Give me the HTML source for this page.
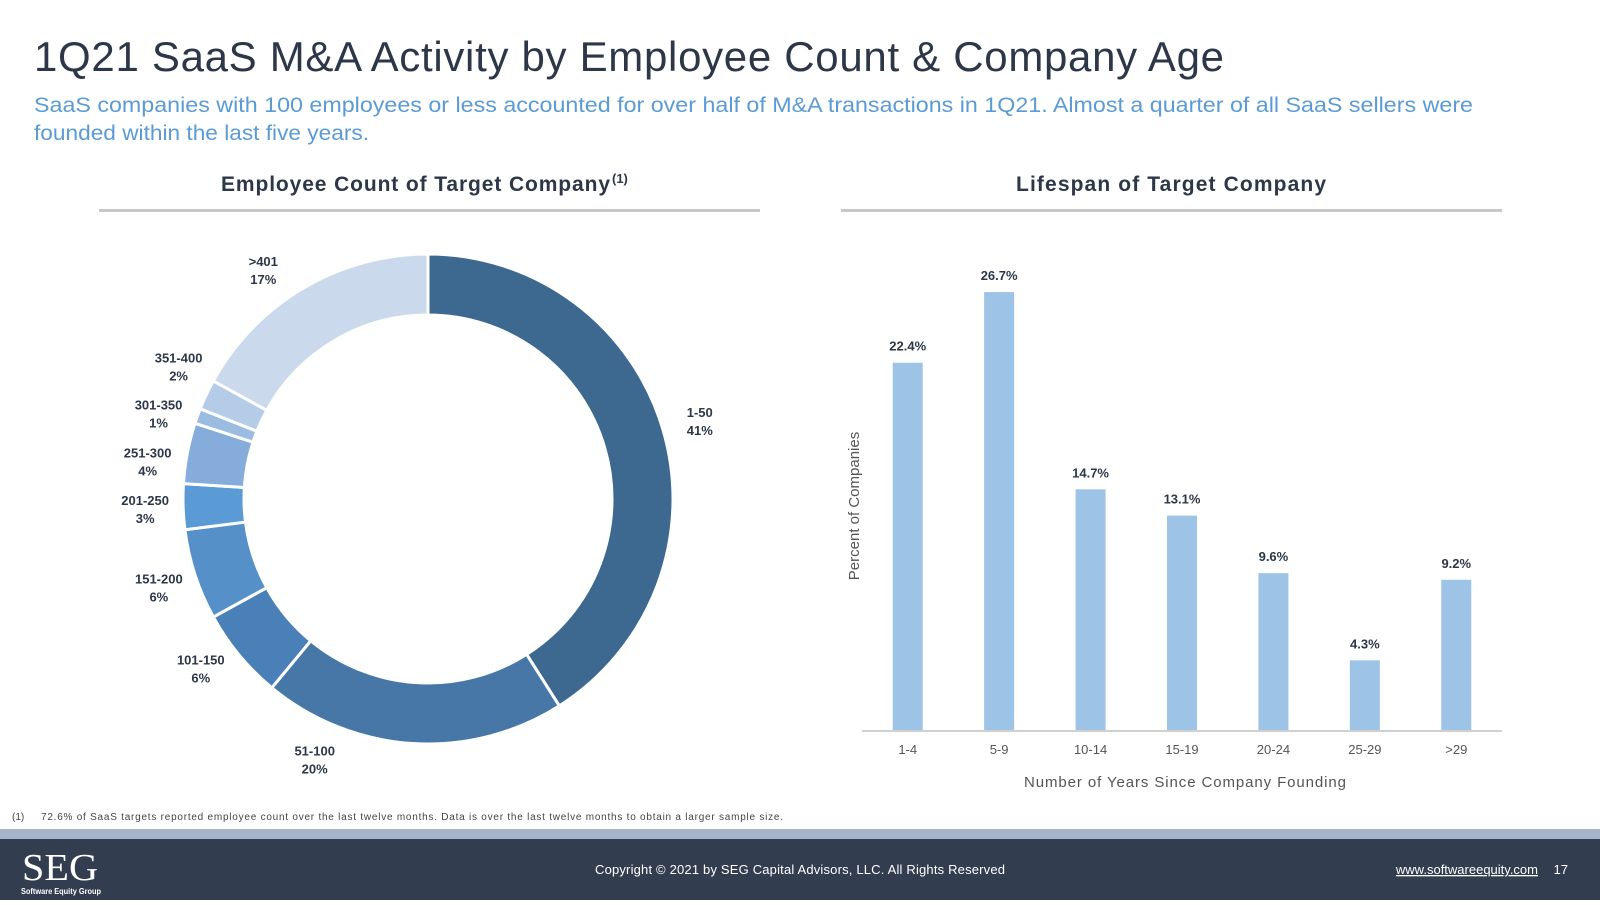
<!DOCTYPE html>
<html><head><meta charset="utf-8"><style>
body{margin:0;width:1600px;height:900px;background:#fff;overflow:hidden;font-family:"Liberation Sans",sans-serif}
</style></head><body>
<svg width="1600" height="900" viewBox="0 0 1600 900" xmlns="http://www.w3.org/2000/svg" font-family="Liberation Sans, sans-serif">
<text x="34" y="71" font-size="42" fill="#2d3748" textLength="1190" lengthAdjust="spacing">1Q21 SaaS M&amp;A Activity by Employee Count &amp; Company Age</text>
<text x="34" y="112" font-size="21" fill="#5b9bd5" textLength="1439" lengthAdjust="spacingAndGlyphs">SaaS companies with 100 employees or less accounted for over half of M&amp;A transactions in 1Q21. Almost a quarter of all SaaS sellers were</text>
<text x="34" y="140" font-size="21" fill="#5b9bd5" textLength="335" lengthAdjust="spacingAndGlyphs">founded within the last five years.</text>
<text x="221" y="191" font-size="21" font-weight="bold" fill="#2d3748" textLength="389" lengthAdjust="spacing">Employee Count of Target Company</text>
<text x="612" y="183" font-size="13" font-weight="bold" fill="#2d3748">(1)</text>
<text x="1016" y="191" font-size="21" font-weight="bold" fill="#2d3748" textLength="310" lengthAdjust="spacing">Lifespan of Target Company</text>
<rect x="99" y="209" width="661" height="3" fill="#c8c8c8"/>
<rect x="841" y="209" width="661" height="3" fill="#c8c8c8"/>
<g id="donut"></g>
<g id="bars"></g>
<text x="12" y="820" font-size="10" fill="#444">(1)</text>
<text x="41" y="820" font-size="10" fill="#444" textLength="742" lengthAdjust="spacing">72.6% of SaaS targets reported employee count over the last twelve months. Data is over the last twelve months to obtain a larger sample size.</text>
<rect x="0" y="829" width="1600" height="10" fill="#a8b4c8"/>
<rect x="0" y="839" width="1600" height="61" fill="#333d50"/>
<text x="22" y="880" font-family="Liberation Serif, serif" font-size="38" fill="#fff" textLength="76" lengthAdjust="spacingAndGlyphs">SEG</text>
<text x="21" y="894" font-size="8" font-weight="bold" fill="#fff" textLength="80" lengthAdjust="spacingAndGlyphs">Software Equity Group</text>
<text x="595" y="874" font-size="13" fill="#fff" textLength="410" lengthAdjust="spacing">Copyright © 2021 by SEG Capital Advisors, LLC. All Rights Reserved</text>
<text x="1538" y="874" font-size="13" fill="#fff" text-anchor="end" text-decoration="underline">www.softwareequity.com</text>
<text x="1568" y="874" font-size="13" fill="#fff" text-anchor="end">17</text>
</svg>
<script>
const NS='http://www.w3.org/2000/svg';
const donutLabels=['1-50','51-100','101-150','151-200','201-250','251-300','301-350','351-400','>401'];
const donutValues=[41,20,6,6,3,4,1,2,17];
const donutColors=['#3d6990','#4777a6','#4a80b8','#5590c8','#5b9bd5','#86acdb','#9bbbe0','#b5cce8','#cbd9ec'];
const barCats=['1-4','5-9','10-14','15-19','20-24','25-29','>29'];
const barValues=[22.4,26.7,14.7,13.1,9.6,4.3,9.2];
// label layout nudges (degrees), layout only
const labelNudgeDeg={'51-100':20,'351-400':3,'301-350':-2,'>401':-5,'251-300':-3,'101-150':3};

function mk(tag,attrs,parent){const e=document.createElementNS(NS,tag);for(const k in attrs)e.setAttribute(k,attrs[k]);parent.appendChild(e);return e;}
const dg=document.getElementById('donut');
const cx=428,cy=499,R=245,r=184;
const total=donutValues.reduce((a,b)=>a+b,0);
let acc=0;
function pt(a,rad){return [cx+rad*Math.sin(a),cy-rad*Math.cos(a)];}
donutValues.forEach((v,i)=>{
  const a0=acc/total*2*Math.PI, a1=(acc+v)/total*2*Math.PI; acc+=v;
  const lg=(a1-a0)>Math.PI?1:0;
  const [x0,y0]=pt(a0,R),[x1,y1]=pt(a1,R),[x2,y2]=pt(a1,r),[x3,y3]=pt(a0,r);
  const p=mk('path',{d:`M${x0},${y0}A${R},${R} 0 ${lg} 1 ${x1},${y1}L${x2},${y2}A${r},${r} 0 ${lg} 0 ${x3},${y3}Z`,fill:donutColors[i],stroke:'#fff','stroke-width':3},dg);
  
  
  const am=(a0+a1)/2+((labelNudgeDeg[donutLabels[i]]||0)*Math.PI/180);
  const [lx,ly]=pt(am,283);
  const t=mk('text',{x:lx,y:ly-3,'font-size':13,'font-weight':'bold',fill:'#2d3748','text-anchor':'middle'},dg);
  
  
  t.textContent=donutLabels[i];
  const t2=mk('text',{x:lx,y:ly+15,'font-size':13,'font-weight':'bold',fill:'#2d3748','text-anchor':'middle'},dg);
  
  
  t2.textContent=v+'%';
});
const bg=document.getElementById('bars');
const x0=862,x1=1502,base=731,scale=16.44,bw=30;
const step=(x1-x0)/barCats.length;
const xs=i=>x0+step*(i+0.5);
const ys=v=>base-v*scale;
barValues.forEach((v,i)=>{
  const b=mk('rect',{x:xs(i)-bw/2,y:ys(v),width:bw,height:base-ys(v),fill:'#9dc3e6'},bg);
  
  
  const t=mk('text',{x:xs(i),y:ys(v)-12,'font-size':13,'font-weight':'bold',fill:'#2d3748','text-anchor':'middle'},bg);
  
  
  t.textContent=v.toFixed(1)+'%';
  const c=mk('text',{x:xs(i),y:754,'font-size':13,fill:'#555','text-anchor':'middle'},bg);
  
  
  c.textContent=barCats[i];
});
const ax=mk('line',{x1:x0,x2:x1,y1:base,y2:base,stroke:'#d0d0d0','stroke-width':2},bg);


const xt=mk('text',{x:1185,y:787,'font-size':15,fill:'#555','text-anchor':'middle',textLength:322,lengthAdjust:'spacing'},bg);


xt.textContent='Number of Years Since Company Founding';
const yt=mk('text',{x:0,y:0,'font-size':15,fill:'#555','text-anchor':'middle',transform:'translate(859,506) rotate(-90)'},bg);


yt.textContent='Percent of Companies';
</script>
</body></html>
